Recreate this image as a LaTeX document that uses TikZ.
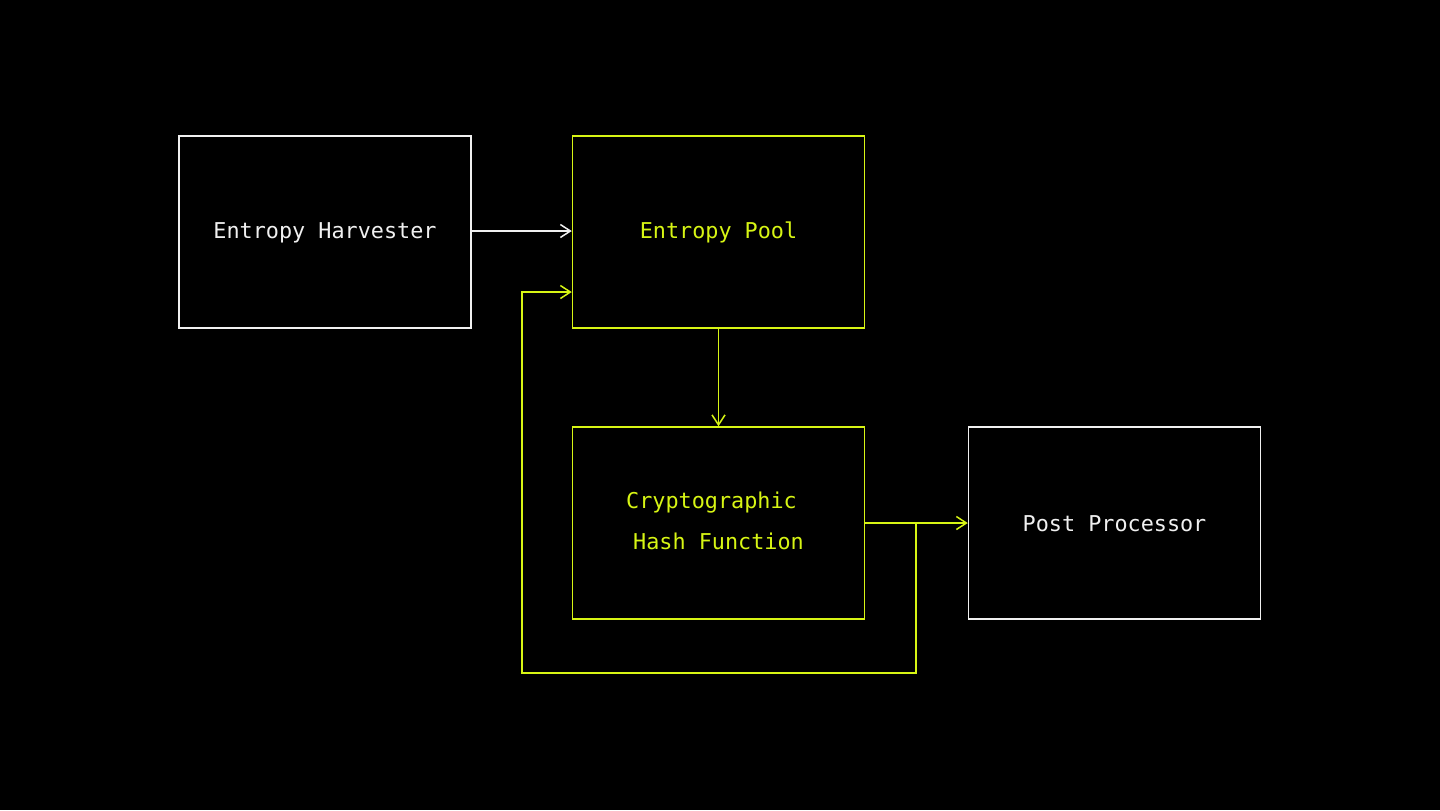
\documentclass[tikz,border=0pt]{standalone}
\usepackage{fontspec}
\setmonofont{DejaVu Sans Mono}
\usetikzlibrary{arrows.meta}
\definecolor{lime}{RGB}{215,245,20}
\definecolor{wht}{RGB}{240,240,240}
\tikzset{
  txt/.style={font=\ttfamily\fontsize{10.9}{19}\selectfont},
  blk/.style={draw, line width=0.75pt, minimum width=146pt, minimum height=96pt, inner sep=0pt, txt, align=center},
  wbox/.style={blk, draw=wht, text=wht},
  lbox/.style={blk, draw=lime, text=lime},
  arr/.style={line width=0.75pt, -{Straight Barb[length=5pt,width=6.5pt,line width=0.75pt]}},
}
\begin{document}
\begin{tikzpicture}[x=0.5pt,y=-0.5pt]
\fill[black] (0,0) rectangle (1440,810);
\useasboundingbox (0,0) rectangle (1440,810);
\node[wbox] (eh) at (325,232) {};
\node[lbox] (ep) at (718.5,232) {};
\node[lbox] (chf) at (718.5,523) {};
\node[wbox] (pp) at (1114.5,523) {};
\node[txt, text=wht] (t1) at (325,233) {Entropy Harvester};
\node[txt, text=lime] (t2) at (718.5,232) {Entropy Pool};
\node[txt, text=wht] (t3) at (1114.5,524) {Post Processor};
\node[txt, text=lime] (l1) at (711.5,503) {Cryptographic};
\node[txt, text=lime] (l2) at (718.5,541) {Hash Function};
\coordinate (br) at (916,523);
\coordinate (c1) at (916,673);
\coordinate (c2) at (522,673);
\coordinate (c3) at (522,292);
\coordinate (c4) at (ep.west |- c3);
\draw[arr, wht] (eh.east |- 0,231) -- (ep.west |- 0,231);
\draw[arr, lime] (ep.south) -- (chf.north);
\draw[arr, lime] (chf.east) -- (pp.west);
\draw[arr, lime] (br) -- (c1) -- (c2) -- (c3) -- (c4);
\end{tikzpicture}
\end{document}
